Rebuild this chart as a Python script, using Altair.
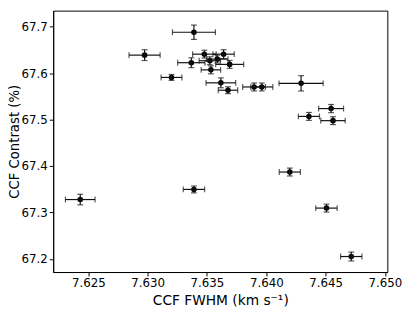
import altair as alt
import pandas as pd

# CCF FWHM (km/s) and errors
fwhm = [7.6339, 7.62974, 7.63201, 7.63368, 7.63478, 7.63524, 7.63587, 7.63640,
        7.63691, 7.63533, 7.63617, 7.63677, 7.63897, 7.63962, 7.64293, 7.64546,
        7.64359, 7.64562, 7.62432, 7.6339, 7.64198, 7.64507, 7.64716]
fwhm_err = [0.00181, 0.00131, 0.00088, 0.00115, 0.00099, 0.0009, 0.0009, 0.0009,
            0.00118, 0.00082, 0.00125, 0.00082, 0.00096, 0.00093, 0.00186, 0.00105,
            0.00089, 0.00103, 0.00125, 0.0009, 0.00089, 0.0009, 0.0009]
# CCF contrast (%) and errors
contrast = [67.688, 67.6387, 67.5907, 67.6224, 67.6408, 67.6266, 67.6302, 67.6408,
            67.6188, 67.607, 67.5791, 67.5632, 67.5702, 67.5702, 67.578, 67.5237,
            67.5068, 67.4977, 67.3279, 67.3497, 67.3871, 67.3095, 67.2053]
contrast_err = [0.0154, 0.0116, 0.0063, 0.0106, 0.0085, 0.0085, 0.0085, 0.0095,
                0.0085, 0.0085, 0.0106, 0.0074, 0.0085, 0.0085, 0.0165, 0.0088,
                0.0085, 0.0085, 0.0113, 0.0074, 0.0085, 0.0085, 0.0095]

x_ticks = [7.625, 7.630, 7.635, 7.640, 7.645, 7.650]
y_ticks = [67.2, 67.3, 67.4, 67.5, 67.6, 67.7]

df = pd.DataFrame({"x": fwhm, "xe": fwhm_err, "y": contrast, "ye": contrast_err})
df["xlo"] = df["x"] - df["xe"]
df["xhi"] = df["x"] + df["xe"]
df["ylo"] = df["y"] - df["ye"]
df["yhi"] = df["y"] + df["ye"]

xs = alt.Scale(domain=[7.62204, 7.6502], nice=False, zero=False)
ys = alt.Scale(domain=[67.1719, 67.7345], nice=False, zero=False)

X = alt.X("x:Q", scale=xs, title="CCF FWHM (km s⁻¹)",
          axis=alt.Axis(values=x_ticks, format=".3f", titleY=33,
                        titleBaseline="alphabetic"))
Y = alt.Y("y:Q", scale=ys, title="CCF Contrast (%)",
          axis=alt.Axis(values=y_ticks, format=".1f", titleX=-35,
                        titleFontSize=13.5, titleBaseline="alphabetic"))

base = alt.Chart(df)
col = "#111111"

xbar = base.mark_rule(color=col, strokeWidth=1.2).encode(
    x=alt.X("xlo:Q", scale=xs), x2="xhi:Q", y=alt.Y("y:Q", scale=ys))
ybar = base.mark_rule(color=col, strokeWidth=1.2).encode(
    x=alt.X("x:Q", scale=xs), y=alt.Y("ylo:Q", scale=ys), y2="yhi:Q")
xcap1 = base.mark_tick(color=col, orient="vertical", size=6, thickness=1.2).encode(
    x=alt.X("xlo:Q", scale=xs), y=alt.Y("y:Q", scale=ys))
xcap2 = base.mark_tick(color=col, orient="vertical", size=6, thickness=1.2).encode(
    x=alt.X("xhi:Q", scale=xs), y=alt.Y("y:Q", scale=ys))
ycap1 = base.mark_tick(color=col, orient="horizontal", size=6, thickness=1.2).encode(
    x=alt.X("x:Q", scale=xs), y=alt.Y("ylo:Q", scale=ys))
ycap2 = base.mark_tick(color=col, orient="horizontal", size=6, thickness=1.2).encode(
    x=alt.X("x:Q", scale=xs), y=alt.Y("yhi:Q", scale=ys))
pts = base.mark_circle(color="black", size=32, opacity=1).encode(x=X, y=Y)

chart = alt.layer(pts, xbar, ybar, xcap1, xcap2, ycap1, ycap2).properties(
    width=340, height=266,
    autosize=alt.AutoSizeParams(type="none"),
    padding={"left": 46, "top": 0, "right": 20, "bottom": 38},
).configure_view(
    stroke="black", strokeWidth=1
).configure_axis(
    grid=False,
    domainColor="black",
    tickColor="black",
    tickSize=4,
    labelPadding=2,
    labelColor="black",
    labelFont="DejaVu Sans",
    labelFontSize=12,
    titleFont="DejaVu Sans",
    titleFontSize=14,
    titleFontWeight="normal",
    titleColor="black",
)

chart.save("out.html", embed_options={"renderer": "svg", "actions": False})
